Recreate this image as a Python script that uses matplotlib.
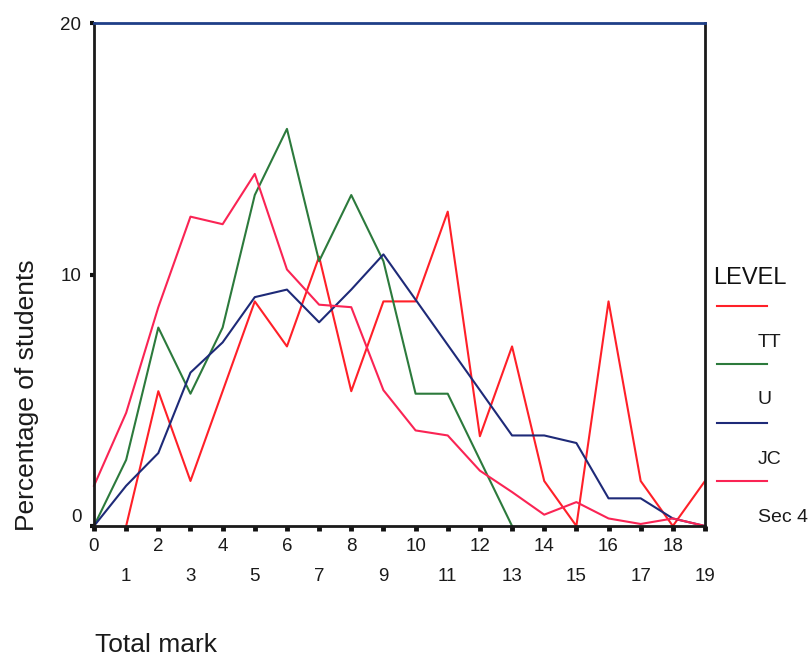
import matplotlib
matplotlib.use("Agg")
import matplotlib.pyplot as plt
from matplotlib.lines import Line2D

plt.rcParams["font.family"] = ["Liberation Sans", "DejaVu Sans"]

# =====================================================
# Data (percentage of students per total mark)
# =====================================================

marks = list(range(20))

tt_marks = list(range(1, 20))
tt_pct = [0, 5.36, 1.79, 5.36, 8.93, 7.14, 10.71, 5.36, 8.93, 8.93,
          12.5, 3.57, 7.14, 1.79, 0, 8.93, 1.79, 0, 1.79]

u_marks = list(range(14))
u_pct = [0, 2.63, 7.89, 5.26, 7.89, 13.16, 15.79, 10.53, 13.16, 10.53,
         5.26, 5.26, 2.63, 0]

jc_pct = [0, 1.6, 2.9, 6.1, 7.3, 9.1, 9.4, 8.1, 9.4, 10.8,
          9.0, 7.2, 5.4, 3.6, 3.6, 3.3, 1.1, 1.1, 0.3, 0]

sec4_pct = [1.6, 4.5, 8.7, 12.3, 12.0, 14.0, 10.2, 8.8, 8.7, 5.4,
            3.8, 3.6, 2.2, 1.35, 0.45, 0.95, 0.3, 0.08, 0.3, 0]

level_names = ["TT", "U", "JC", "Sec 4"]
level_colors = ["#ff2028", "#2c7a3c", "#1e2a78", "#fa2454"]

W, H = 812, 656

# =====================================================
# Chart
# =====================================================

fig = plt.figure(figsize=(W / 100, H / 100), dpi=100)
ax = fig.add_axes([94 / W, 1 - 526 / H, (705 - 94) / W, (526 - 23) / H])

ax.plot(tt_marks, tt_pct, color=level_colors[0], lw=1.5, clip_on=False)
ax.plot(u_marks, u_pct, color=level_colors[1], lw=1.5, clip_on=False)
ax.plot(marks, jc_pct, color=level_colors[2], lw=1.5, clip_on=False)
ax.plot(marks, sec4_pct, color=level_colors[3], lw=1.5, clip_on=False)

ax.set_xlim(0, 19)
ax.set_ylim(0, 20)

for side in ["left", "bottom", "right"]:
    ax.spines[side].set_linewidth(2)
    ax.spines[side].set_color("#1a1a1a")
ax.spines["top"].set_linewidth(2)
ax.spines["top"].set_color("#1f3f88")

ax.set_xticks(marks)
ax.set_xticklabels([str(m) for m in marks], fontsize=13.5, color="#1a1a1a")
ax.tick_params(axis="x", direction="out", length=3.5, width=3.5, color="#111111")
for i, tick in enumerate(ax.xaxis.get_major_ticks()):
    tick.set_pad(5 if i % 2 == 0 else 27)

ax.set_yticks([0, 10, 20])
ax.set_yticklabels(["0", "10", "20"], fontsize=13.5, color="#1a1a1a")
ax.tick_params(axis="y", direction="out", length=3, width=3, color="#111111", pad=6)
ax.get_yticklabels()[0].set_va("bottom")

fig.text(27 / W, 1 - 395 / H, "Percentage of students", rotation=90,
         ha="center", va="center", fontsize=19, color="#1a1a1a")
fig.text(95 / W, 1 - 652 / H, "Total mark", ha="left", va="baseline",
         fontsize=19, color="#1a1a1a")

# legend drawn by hand, SPSS style (line above its label)
fig.text(713 / W, 1 - 284 / H, "LEVEL", ha="left", va="baseline",
         fontsize=17, color="#111111")
line_y = [306, 364, 423, 481]
label_y = [347, 404, 464, 522]
for name, color, ly, ty in zip(level_names, level_colors, line_y, label_y):
    fig.add_artist(Line2D([717 / W, 767 / W], [1 - ly / H, 1 - ly / H],
                          color=color, lw=1.5))
    fig.text(758 / W, 1 - ty / H, name, ha="left", va="baseline",
             fontsize=14, color="#1a1a1a")

plt.savefig("out.png", dpi=100)
plt.close()
